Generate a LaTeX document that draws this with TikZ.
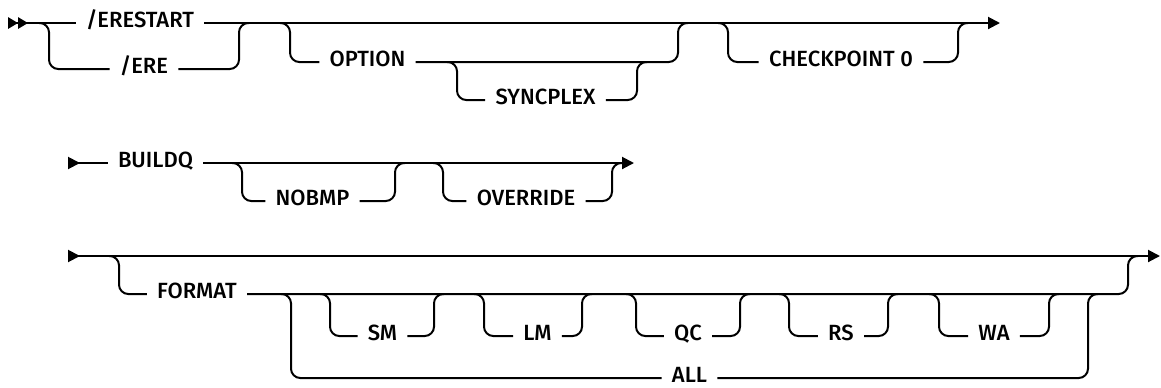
\documentclass[tikz,border=0pt]{standalone}
\usepackage{fontspec}
\setmainfont{Fira Sans}
\newfontfamily\kwfont{Fira Sans}[UprightFont={* Medium}]
\usetikzlibrary{arrows.meta}

\begin{document}
\begin{tikzpicture}[x=0.75pt, y=-0.75pt, line width=1.5pt, rounded corners=7pt,
    font=\kwfont\fontsize{16.5pt}{19pt}\selectfont,
    kw/.style={inner xsep=7pt, inner ysep=2pt, text height=0.69em, text depth=0pt},
    endtip/.style={-{Triangle[length=9pt,width=9pt]}},
    begtip/.style={{Triangle[reversed,length=9pt,width=9pt]}-},
    bothtip/.style={{Triangle[reversed,length=9pt,width=9pt]}-{Triangle[length=9pt,width=9pt]}},
    dbltip/.style={{Triangle[reversed,length=7.5pt,width=8.5pt]Triangle[reversed,length=7.5pt,width=8.5pt]}-}]
    \useasboundingbox (0,0) rectangle (1161,387);
    %% row 1
    \coordinate (r1s) at (8,23);
    \coordinate (r1e) at (1000,23);
    \node[kw] (erestart) at (140,23) {/ERESTART};
    \node[kw] (ere)      at (144,69) {/ERE};
    \node[kw] (option)   at (367.5,62) {OPTION};
    \node[kw] (syncplex) at (545.5,100) {SYNCPLEX};
    \node[kw] (chkpt)    at (841,62) {CHECKPOINT 0};
    \coordinate (e1) at (39,23);   \coordinate (e1d) at (49,69);
    \coordinate (e2d) at (239,69); \coordinate (e2) at (249,23);
    \coordinate (o1) at (280,23);  \coordinate (o1d) at (290,62);
    \coordinate (o2d) at (678,62); \coordinate (o2) at (688,23);
    \coordinate (s1) at (447,62);  \coordinate (s1d) at (457,100);
    \coordinate (s2d) at (637,100); \coordinate (s2) at (647,62);
    \coordinate (c1) at (718,23);  \coordinate (c1d) at (728,62);
    \coordinate (c2d) at (958,62); \coordinate (c2) at (968,23);
    \draw[dbltip] (r1s) -- (erestart);
    \draw[endtip] (erestart) -- (r1e);
    \draw (e1) -| (e1d) -- (ere);
    \draw (ere) -- (e2d) |- (e2);
    \draw (o1) -| (o1d) -- (option);
    \draw (option) -- (o2d) |- (o2);
    \draw (s1) -| (s1d) -- (syncplex);
    \draw (syncplex) -- (s2d) |- (s2);
    \draw (c1) -| (c1d) -- (chkpt);
    \draw (chkpt) -- (c2d) |- (c2);
    %% row 2
    \coordinate (r2s) at (68,163);
    \coordinate (r2e) at (634,163);
    \node[kw] (buildq)   at (155.5,163) {BUILDQ};
    \node[kw] (nobmp)    at (312.5,201) {NOBMP};
    \node[kw] (override) at (526,201) {OVERRIDE};
    \coordinate (n1) at (232,163);  \coordinate (n1d) at (242,201);
    \coordinate (n2d) at (395,201); \coordinate (n2) at (405,163);
    \coordinate (v1) at (433,163);  \coordinate (v1d) at (443,201);
    \coordinate (v2d) at (612,201); \coordinate (v2) at (622,163);
    \draw[begtip] (r2s) -- (buildq);
    \draw[endtip] (buildq) -- (r2e);
    \draw (n1) -| (n1d) -- (nobmp);
    \draw (nobmp) -- (n2d) |- (n2);
    \draw (v1) -| (v1d) -- (override);
    \draw (override) -- (v2d) |- (v2);
    %% row 3
    \coordinate (r3s) at (68,256);
    \coordinate (r3e) at (1160,256);
    \node[kw] (format) at (197,294) {FORMAT};
    \node[kw] (all)    at (689.5,378) {ALL};
    \coordinate (f1) at (109,256);   \coordinate (f1d) at (119,294);
    \coordinate (f2d) at (1128,294); \coordinate (f2) at (1138,256);
    \coordinate (g1) at (281,294);   \coordinate (g1d) at (291,378);
    \coordinate (g2d) at (1088,378); \coordinate (g2) at (1098,294);
    \draw[bothtip] (r3s) -- (r3e);
    \draw (f1) -| (f1d) -- (format);
    \draw (format) -- (f2d) |- (f2);
    \draw (g1) -| (g1d) -- (all);
    \draw (all) -- (g2d) |- (g2);
    %% optional format values
    \foreach \n/\t/\a/\b/\c in {sm/SM/330/434/382.5, lm/LM/484/582/537.5,
        qc/QC/636/740/688, rs/RS/789/888/841, wa/WA/939/1049/994}{
        \node[kw] (\n) at (\c,336) {\t};
        \coordinate (\n-a) at (\a-10,294); \coordinate (\n-ad) at (\a,336);
        \coordinate (\n-bd) at (\b,336);   \coordinate (\n-b) at (\b+10,294);
        \draw (\n-a) -| (\n-ad) -- (\n);
        \draw (\n) -- (\n-bd) |- (\n-b);
    }
\end{tikzpicture}
\end{document}
